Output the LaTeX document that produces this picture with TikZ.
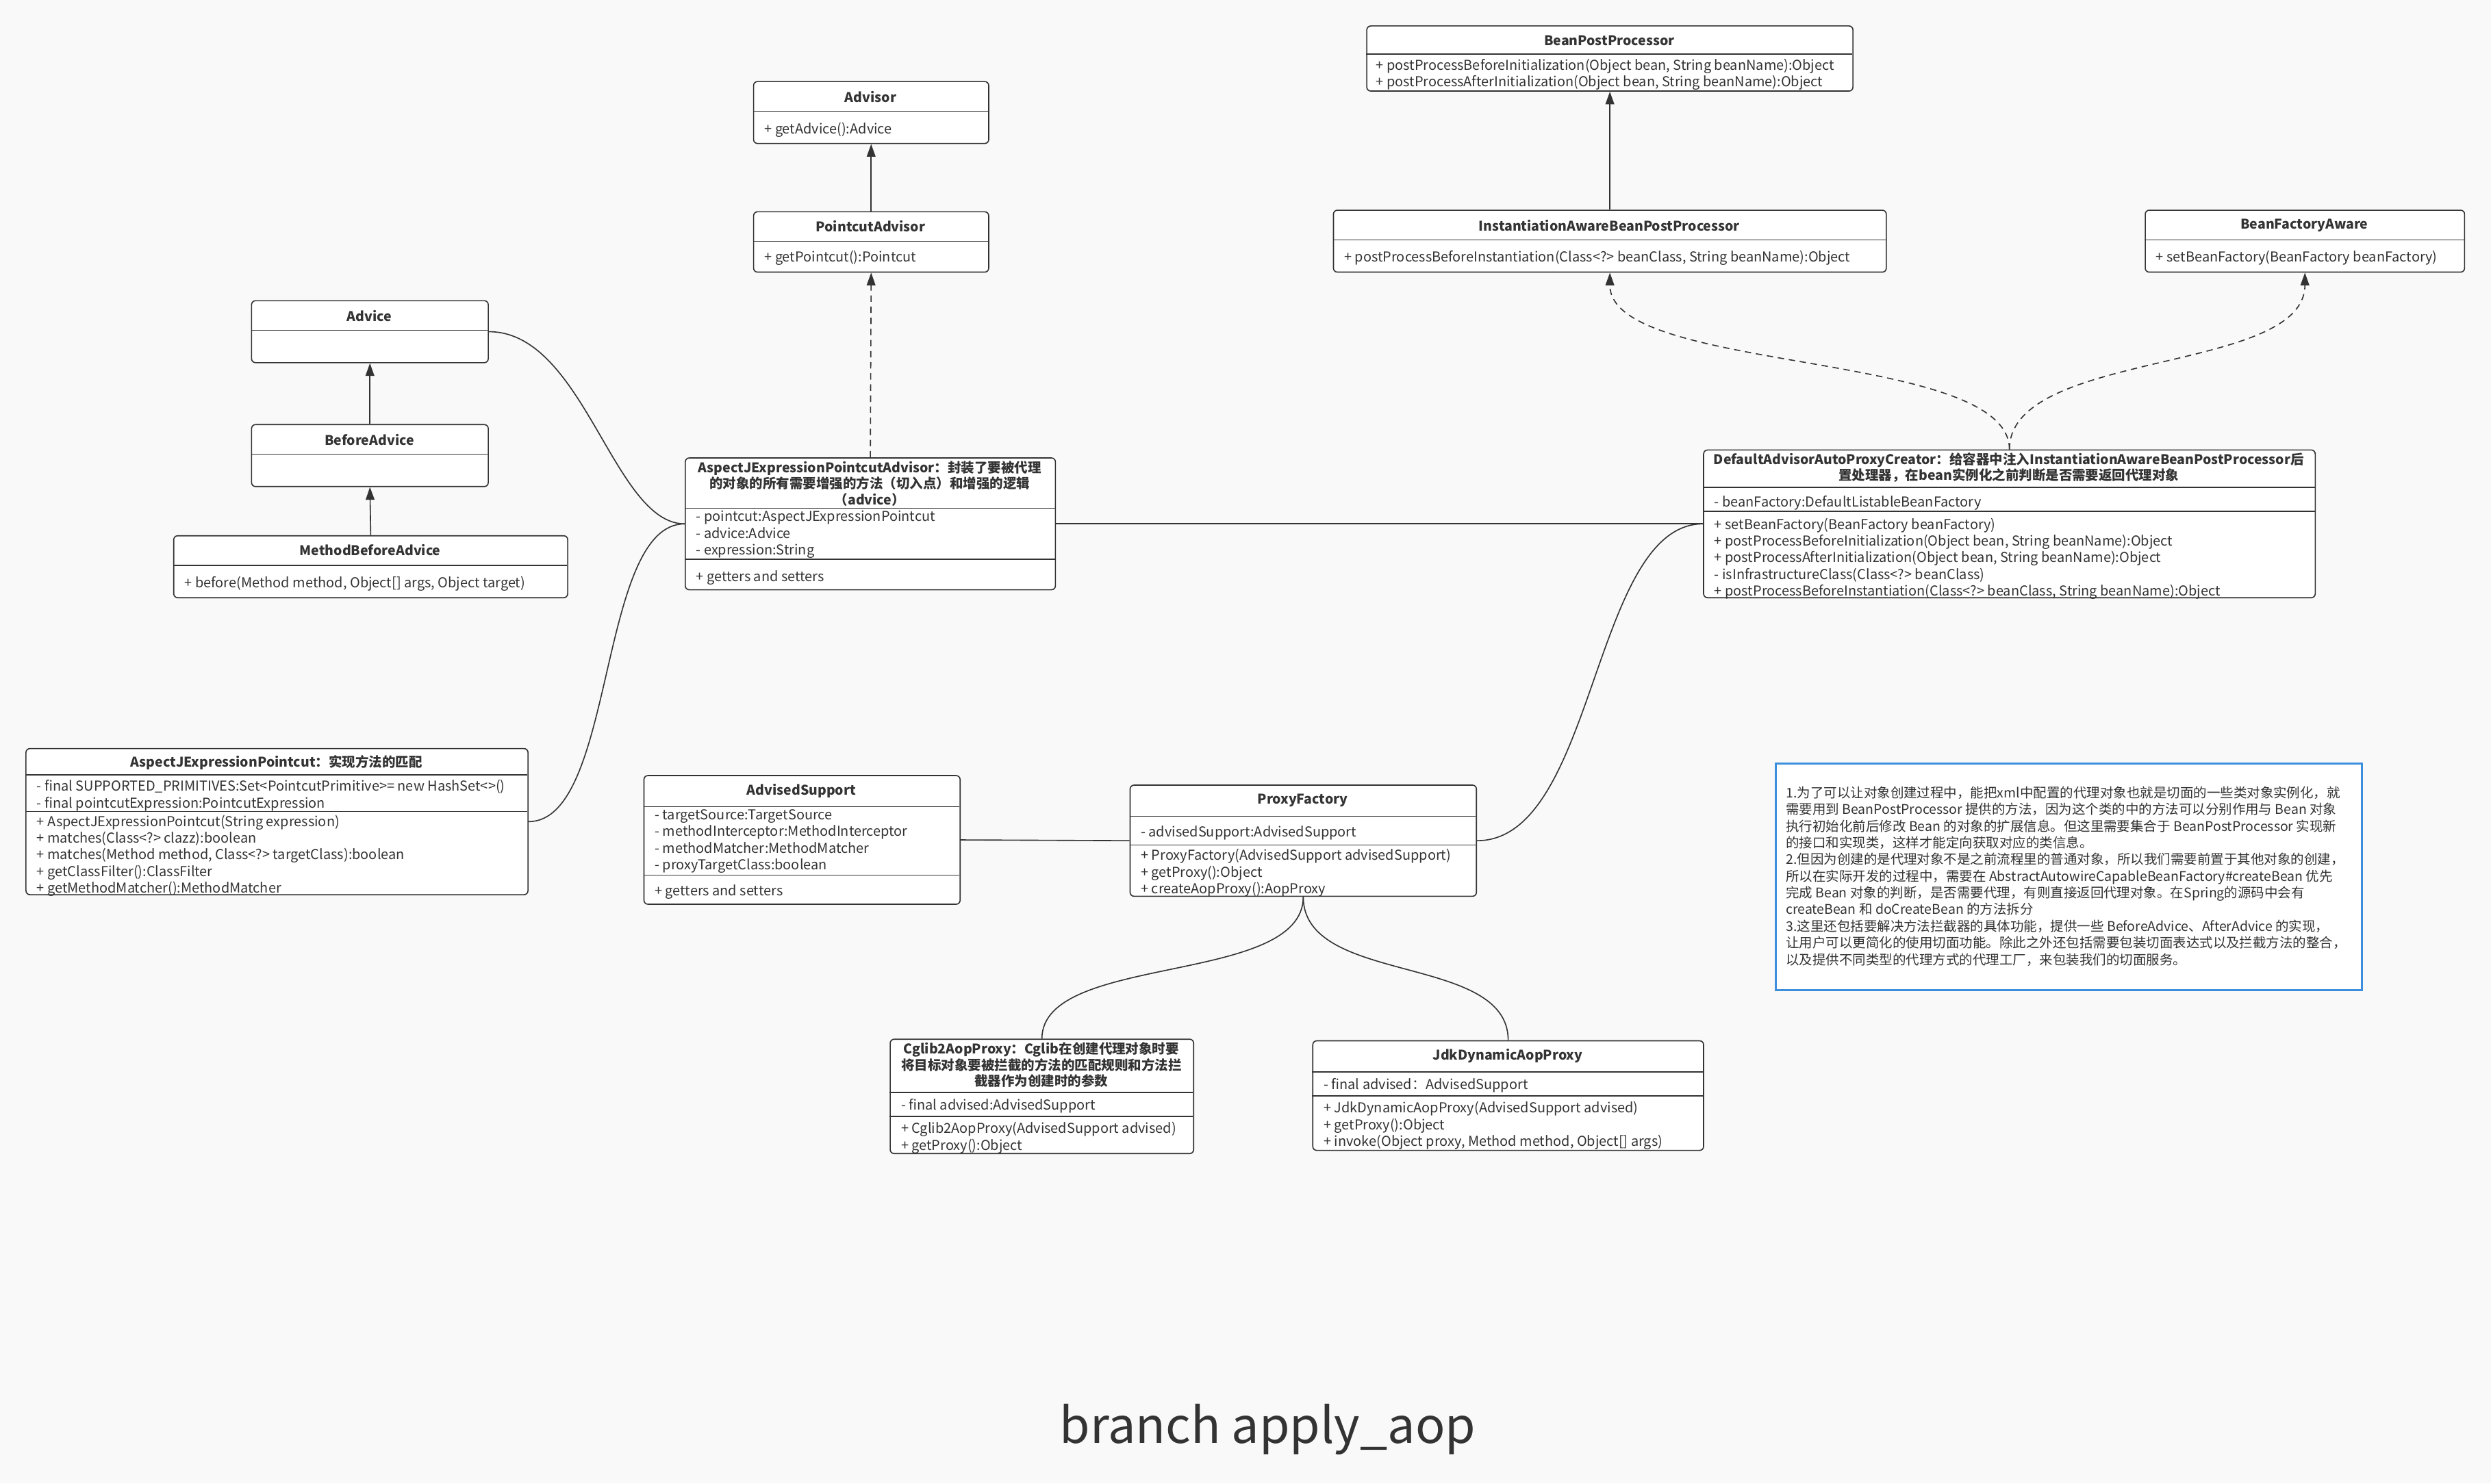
\documentclass[tikz,border=0pt]{standalone}
\usepackage{fontspec}
\setmainfont{Noto Sans CJK SC}
\usetikzlibrary{arrows.meta, calc}

\definecolor{bgc}{RGB}{249,249,249}
\definecolor{linec}{RGB}{51,51,51}
\definecolor{txtc}{RGB}{51,51,51}
\definecolor{notec}{RGB}{61,143,222}

\newcommand{\titlefont}{\fontsize{8.4}{10}\selectfont\bfseries}
\newcommand{\memberfont}{\fontsize{8.6}{10.5}\selectfont}
\newcommand{\notefont}{\fontsize{8.4}{10.5}\selectfont}

\tikzset{
  clsbox/.style={draw=linec, fill=white, line width=0.7pt, rounded corners=2.5pt, inner sep=0pt},
  clsline/.style={draw=linec, line width=0.7pt},
  clstitle/.style={font=\titlefont, text=txtc, align=center, inner sep=0pt},
  members/.style={font=\memberfont, text=txtc, align=left, inner sep=0pt, anchor=north west, xshift=2pt, yshift=-1pt, execute at begin node=\strut},
  inherit/.style={draw=linec, line width=0.7pt, -{Triangle[length=8pt,width=5.5pt]}},
  realize/.style={inherit, dash pattern=on 4pt off 3pt},
  assoc/.style={draw=linec, line width=0.7pt},
  notebox/.style={draw=notec, fill=white, line width=1.3pt, inner sep=0pt, anchor=north west},
}

% #1 name, #2 left, #3 top, #4 right, #5 bottom, #6 dividers, #7 title centre, #8 title
\newcommand{\umlclass}[8]{%
  \node[clsbox, anchor=north west, minimum width=#4-#2, minimum height=#5-#3] (#1) at (#2,#3) {};
  \foreach \dy in {#6} {\draw[clsline] (#2,\dy) -- (#4,\dy);}
  \node[clstitle] (#1-t) at ({(#2+#4)/2},#7) {#8};
}

\begin{document}
\begin{tikzpicture}[x=1pt, y=-1pt]
  \fill[bgc] (0,0) rectangle (1568,934);
  \useasboundingbox (0,0) rectangle (1568,934);

  % post processors
  \umlclass{bpp}{860}{16}{1166}{57}{34}{25.5}{BeanPostProcessor}
  \node[members] (bpp-m) at (864,36) {+ postProcessBeforeInitialization(Object bean, String beanName):Object\\+ postProcessAfterInitialization(Object bean, String beanName):Object};
  \umlclass{iabpp}{839}{132}{1187}{171}{151}{142}{InstantiationAwareBeanPostProcessor}
  \node[members] (iabpp-m) at (844,156.5) {+ postProcessBeforeInstantiation(Class<?> beanClass, String beanName):Object};
  \umlclass{bfa}{1350}{132}{1551}{171}{151}{142}{BeanFactoryAware}
  \node[members] (bfa-m) at (1355,156.5) {+ setBeanFactory(BeanFactory beanFactory)};

  % advisors
  \umlclass{advisor}{474}{51}{622}{90}{70}{61}{Advisor}
  \node[members] (advisor-m) at (479,75.5) {+ getAdvice():Advice};
  \umlclass{pcadvisor}{474}{133}{622}{171}{152}{142.5}{PointcutAdvisor}
  \node[members] (pcadvisor-m) at (479,156.5) {+ getPointcut():Pointcut};

  % advices
  \umlclass{advice}{158}{189}{307}{228}{208}{199}{Advice}
  \umlclass{before}{158}{267}{307}{306}{286}{277}{BeforeAdvice}
  \umlclass{mba}{109}{337}{357}{376}{356}{346.5}{MethodBeforeAdvice}
  \node[members] (mba-m) at (114,361.5) {+ before(Method method, Object[] args, Object target)};

  \umlclass{ajpa}{431}{288}{664}{371}{320,352}{304.5}{AspectJExpressionPointcutAdvisor：封装了要被代理\\的对象的所有需要增强的方法（切入点）和增强的逻辑\\（advice）}
  \node[members] (ajpa-a) at (436,320.5) {- pointcut:AspectJExpressionPointcut\\- advice:Advice\\- expression:String};
  \node[members] (ajpa-m) at (436,357.5) {+ getters and setters};

  \umlclass{dapc}{1072}{283}{1457}{376}{307,322}{294.5}{DefaultAdvisorAutoProxyCreator：给容器中注入InstantiationAwareBeanPostProcessor后\\置处理器，在bean实例化之前判断是否需要返回代理对象}
  \node[members] (dapc-a) at (1077,310.5) {- beanFactory:DefaultListableBeanFactory};
  \node[members] (dapc-m) at (1077,325) {+ setBeanFactory(BeanFactory beanFactory)\\+ postProcessBeforeInitialization(Object bean, String beanName):Object\\+ postProcessAfterInitialization(Object bean, String beanName):Object\\- isInfrastructureClass(Class<?> beanClass)\\+ postProcessBeforeInstantiation(Class<?> beanClass, String beanName):Object};

  % pointcut
  \umlclass{ajp}{16}{471}{332}{563}{488,511}{480}{AspectJExpressionPointcut：实现方法的匹配}
  \node[members] (ajp-a) at (21,490) {- final SUPPORTED\_PRIMITIVES:Set<PointcutPrimitive>= new HashSet<>()\\- final pointcutExpression:PointcutExpression};
  \node[members] (ajp-m) at (21,512) {+ AspectJExpressionPointcut(String expression)\\+ matches(Class<?> clazz):boolean\\+ matches(Method method, Class<?> targetClass):boolean\\+ getClassFilter():ClassFilter\\+ getMethodMatcher():MethodMatcher};

  % proxies
  \umlclass{as}{405}{488}{604}{569}{508,551}{498}{AdvisedSupport}
  \node[members] (as-a) at (410,508.5) {- targetSource:TargetSource\\- methodInterceptor:MethodInterceptor\\- methodMatcher:MethodMatcher\\- proxyTargetClass:boolean};
  \node[members] (as-m) at (410,555.5) {+ getters and setters};

  \umlclass{pf}{711}{494}{929}{564}{514,532}{504}{ProxyFactory}
  \node[members] (pf-a) at (716,518.5) {- advisedSupport:AdvisedSupport};
  \node[members] (pf-m) at (716,533.5) {+ ProxyFactory(AdvisedSupport advisedSupport)\\+ getProxy():Object\\+ createAopProxy():AopProxy};

  \umlclass{cglib}{560}{654}{751}{726}{688,703}{670.5}{Cglib2AopProxy：Cglib在创建代理对象时要\\将目标对象要被拦截的方法的匹配规则和方法拦\\截器作为创建时的参数}
  \node[members] (cglib-a) at (565,690.5) {- final advised:AdvisedSupport};
  \node[members] (cglib-m) at (565,705.5) {+ Cglib2AopProxy(AdvisedSupport advised)\\+ getProxy():Object};

  \umlclass{jdk}{826}{655}{1072}{724}{675,690}{665}{JdkDynamicAopProxy}
  \node[members] (jdk-a) at (831,677.5) {- final advised：AdvisedSupport};
  \node[members] (jdk-m) at (831,692.5) {+ JdkDynamicAopProxy(AdvisedSupport advised)\\+ getProxy():Object\\+ invoke(Object proxy, Method method, Object[] args)};

  % connectors
  \draw[inherit] (iabpp.north) -- (bpp.south);
  \draw[inherit] (pcadvisor.north) -- (advisor.south);
  \draw[realize] (ajpa.north) -- (pcadvisor.south);
  \draw[inherit] (before.north) -- (advice.south);
  \draw[inherit] (mba.north) -- (before.south);
  \draw[realize] (dapc.north) .. controls +(0,-63) and +(0,64) .. (iabpp.south);
  \draw[realize] (dapc.north) .. controls +(0,-63) and +(0,64) .. (bfa.south);

  \draw[assoc] (advice.east) .. controls +(60,0) and +(-45,0) .. (ajpa.west);
  \draw[assoc] (ajp.east) .. controls +(55,0) and +(-55,0) .. (ajpa.west);
  \draw[assoc] (ajpa.east) -- (dapc.west);
  \draw[assoc] (as.east) -- (pf.west);
  \draw[assoc] (pf.east) .. controls +(75,0) and +(-70,0) .. (dapc.west);
  \draw[assoc] (pf.south) .. controls +(0,56) and +(0,-54) .. (cglib.north);
  \draw[assoc] (pf.south) .. controls +(0,56) and +(0,-55) .. (jdk.north);

  % note
  \node[notebox, minimum width=369, minimum height=143] (note) at (1117,480) {};
  \node[members, font=\notefont] (note-text) at (1122,494) {1.为了可以让对象创建过程中，能把xml中配置的代理对象也就是切面的一些类对象实例化，就\\需要用到 BeanPostProcessor 提供的方法，因为这个类的中的方法可以分别作用与 Bean 对象\\执行初始化前后修改 Bean 的对象的扩展信息。但这里需要集合于 BeanPostProcessor 实现新\\的接口和实现类，这样才能定向获取对应的类信息。\\2.但因为创建的是代理对象不是之前流程里的普通对象，所以我们需要前置于其他对象的创建，\\所以在实际开发的过程中，需要在 AbstractAutowireCapableBeanFactory\#createBean 优先\\完成 Bean 对象的判断，是否需要代理，有则直接返回代理对象。在Spring的源码中会有\\createBean 和 doCreateBean 的方法拆分\\3.这里还包括要解决方法拦截器的具体功能，提供一些 BeforeAdvice、AfterAdvice 的实现，\\让用户可以更简化的使用切面功能。除此之外还包括需要包装切面表达式以及拦截方法的整合，\\以及提供不同类型的代理方式的代理工厂，来包装我们的切面服务。};

  \node[font=\fontsize{31}{37}\selectfont, text=txtc] (caption) at (798,900) {branch apply\_aop};
\end{tikzpicture}
\end{document}
